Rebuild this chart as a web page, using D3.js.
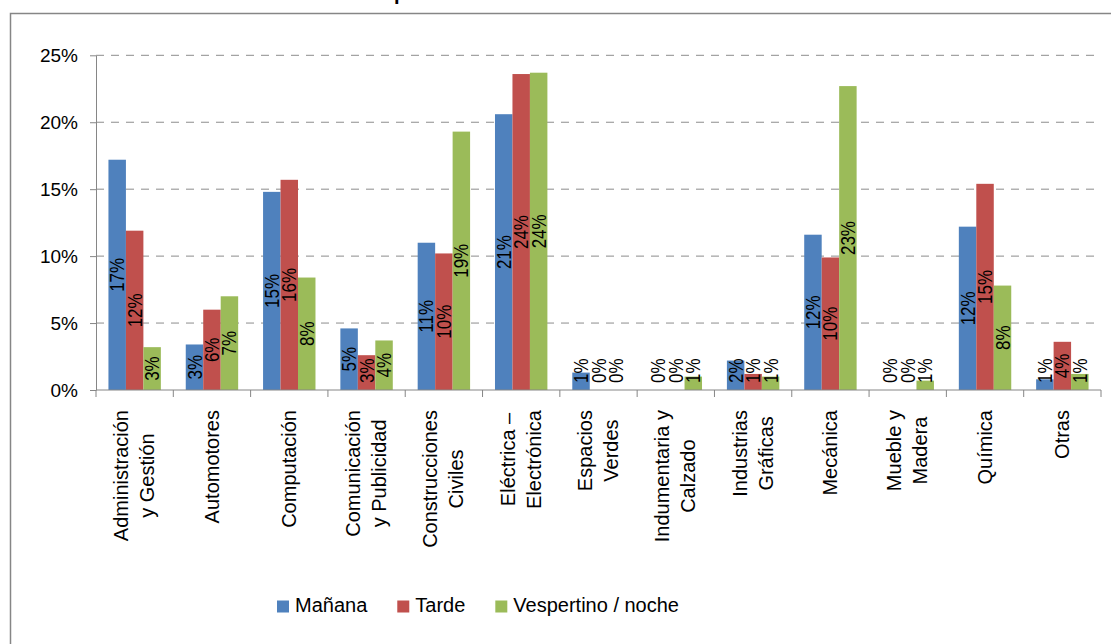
<!DOCTYPE html>
<html>
<head>
<meta charset="utf-8">
<script src="https://cdnjs.cloudflare.com/ajax/libs/d3/7.8.5/d3.min.js"></script>
<style>
  body { margin: 0; background: #fff; }
  svg { display: block; }
  text { font-family: "Liberation Sans", Arial, sans-serif; }
</style>
</head>
<body>
<div id="chart"></div>
<script>
var title = "Distribución de alumnos matriculados por turno en cada área";
var categories = [
  "Administración\ny Gestión", "Automotores", "Computación", "Comunicación\ny Publicidad",
  "Construcciones\nCiviles", "Eléctrica –\nElectrónica", "Espacios\nVerdes",
  "Indumentaria y\nCalzado", "Industrias\nGráficas", "Mecánica", "Mueble y\nMadera",
  "Química", "Otras"
];
var series = ["Mañana", "Tarde", "Vespertino / noche"];
var manana     = [17.2, 3.4, 14.8, 4.6, 11.0, 20.6, 1.3, 0.0, 2.2, 11.6, 0.0, 12.2, 0.8];
var tarde      = [11.9, 6.0, 15.7, 2.6, 10.2, 23.6, 0.0, 0.0, 1.2,  9.9, 0.0, 15.4, 3.6];
var vespertino = [ 3.2, 7.0,  8.4, 3.7, 19.3, 23.7, 0.0, 1.0, 1.0, 22.7, 0.7,  7.8, 1.2];
var yTicks = [0, 5, 10, 15, 20, 25];

var colors = ["#4F81BD", "#C0504D", "#9BBB59"];
var values = [manana, tarde, vespertino];

var width = 1111, height = 644;
var plot = {left: 96, right: 1101, top: 55.3, bottom: 390};

var svg = d3.select('#chart')
  .append('svg')
  .attr('width', width)
  .attr('height', height);

svg.append('rect').attr('width', width).attr('height', height).attr('fill', '#fff');

// title sits mostly above the picture, only its bottom edge shows
svg.append('text')
  .attr('x', 25)
  .attr('y', 0)
  .attr('font-size', '20px')
  .attr('font-weight', 'bold')
  .attr('fill', '#000')
  .text(title);

// chart frame, right and bottom edges fall outside the picture
svg.append('path')
  .attr('d', 'M10.5,' + height + 'V13.5H' + width)
  .attr('fill', 'none')
  .attr('stroke', '#868686')
  .attr('stroke-width', 1.5);

var x0 = d3.scaleBand().domain(d3.range(categories.length)).range([plot.left, plot.right]);
var bw = x0.bandwidth();
var groupW = bw * 0.678;
var x1 = d3.scaleBand().domain(d3.range(series.length))
  .range([(bw - groupW) / 2, (bw + groupW) / 2]);
var y = d3.scaleLinear().domain([0, 25]).range([plot.bottom, plot.top]);

// dashed gridlines
svg.append('g')
  .selectAll('line')
  .data(yTicks.filter(function(d) { return d > 0; }))
  .enter().append('line')
  .attr('x1', plot.left)
  .attr('x2', plot.right)
  .attr('y1', function(d) { return y(d); })
  .attr('y2', function(d) { return y(d); })
  .attr('stroke', '#8c8c8c')
  .attr('stroke-width', 1)
  .attr('stroke-dasharray', '8,7');

// y axis
var yAxis = svg.append('g')
  .attr('transform', 'translate(' + plot.left + ',0)')
  .call(d3.axisLeft(y).tickValues(yTicks).tickSize(6).tickSizeOuter(0).tickPadding(12)
    .tickFormat(function(d) { return d + '%'; }));
yAxis.select('.domain').attr('stroke', '#868686');
yAxis.selectAll('.tick line').attr('stroke', '#868686');
yAxis.selectAll('.tick text')
  .attr('font-size', '19px')
  .attr('font-family', '"Liberation Sans", Arial, sans-serif')
  .attr('fill', '#000')
  .attr('dy', '0.34em');

// bars
var groups = svg.append('g')
  .selectAll('g')
  .data(categories)
  .enter().append('g')
  .attr('transform', function(d, i) { return 'translate(' + x0(i) + ',0)'; });

groups.selectAll('rect')
  .data(function(d, i) { return values.map(function(v, s) { return {s: s, v: v[i]}; }); })
  .enter().append('rect')
  .attr('x', function(d) { return x1(d.s); })
  .attr('width', x1.bandwidth())
  .attr('y', function(d) { return y(d.v); })
  .attr('height', function(d) { return y(0) - y(d.v); })
  .attr('fill', function(d) { return colors[d.s]; });

// x axis line and ticks between categories
svg.append('line')
  .attr('x1', plot.left).attr('x2', plot.right)
  .attr('y1', plot.bottom).attr('y2', plot.bottom)
  .attr('stroke', '#868686');
svg.append('g')
  .selectAll('line')
  .data(d3.range(categories.length + 1))
  .enter().append('line')
  .attr('x1', function(i) { return plot.left + i * bw; })
  .attr('x2', function(i) { return plot.left + i * bw; })
  .attr('y1', plot.bottom)
  .attr('y2', plot.bottom + 7)
  .attr('stroke', '#868686');

// value labels, rotated, centred in the bar but kept off the axis
groups.selectAll('text.val')
  .data(function(d, i) { return values.map(function(v, s) { return {s: s, v: v[i]}; }); })
  .enter().append('text')
  .attr('class', 'val')
  .attr('font-family', '"DejaVu Sans", Verdana, sans-serif')
  .attr('font-size', '17px')
  .attr('fill', '#000')
  .attr('text-anchor', 'middle')
  .attr('dominant-baseline', 'central')
  .text(function(d) { return Math.round(d.v) + '%'; })
  .attr('transform', function(d) {
    var len = this.getComputedTextLength();
    var cx = x1(d.s) + x1.bandwidth() / 2;
    var cy = Math.min((y(d.v) + y(0)) / 2, y(0) - 7 - len / 2);
    return 'translate(' + cx + ',' + cy + ') rotate(-90) scale(1,1.18)';
  });

// category labels, rotated, lines centred in a block hanging from the axis
var lineH = 26;
groups.each(function(d, i) {
  var lines = d.split('\n');
  var g = d3.select(this).append('g')
    .attr('transform', 'translate(' + (bw / 2) + ',410) rotate(-90)');
  var t = g.selectAll('text')
    .data(lines)
    .enter().append('text')
    .attr('font-size', '20px')
    .attr('fill', '#000')
    .attr('text-anchor', 'middle')
    .attr('y', function(l, k) { return (k - (lines.length - 1) / 2) * lineH + 6.6; })
    .text(function(l) { return l; });
  var maxLen = d3.max(t.nodes(), function(n) { return n.getComputedTextLength(); });
  t.attr('x', -maxLen / 2);
});

// legend
var legend = svg.append('g').attr('transform', 'translate(277,0)');
var lx = 0;
series.forEach(function(name, s) {
  legend.append('rect')
    .attr('x', lx).attr('y', 600.5)
    .attr('width', 12).attr('height', 12)
    .attr('fill', colors[s]);
  var txt = legend.append('text')
    .attr('x', lx + 18).attr('y', 611.5)
    .attr('font-size', '20px')
    .attr('fill', '#000')
    .text(name);
  lx += 18 + txt.node().getComputedTextLength() + 30;
});
</script>
</body>
</html>
